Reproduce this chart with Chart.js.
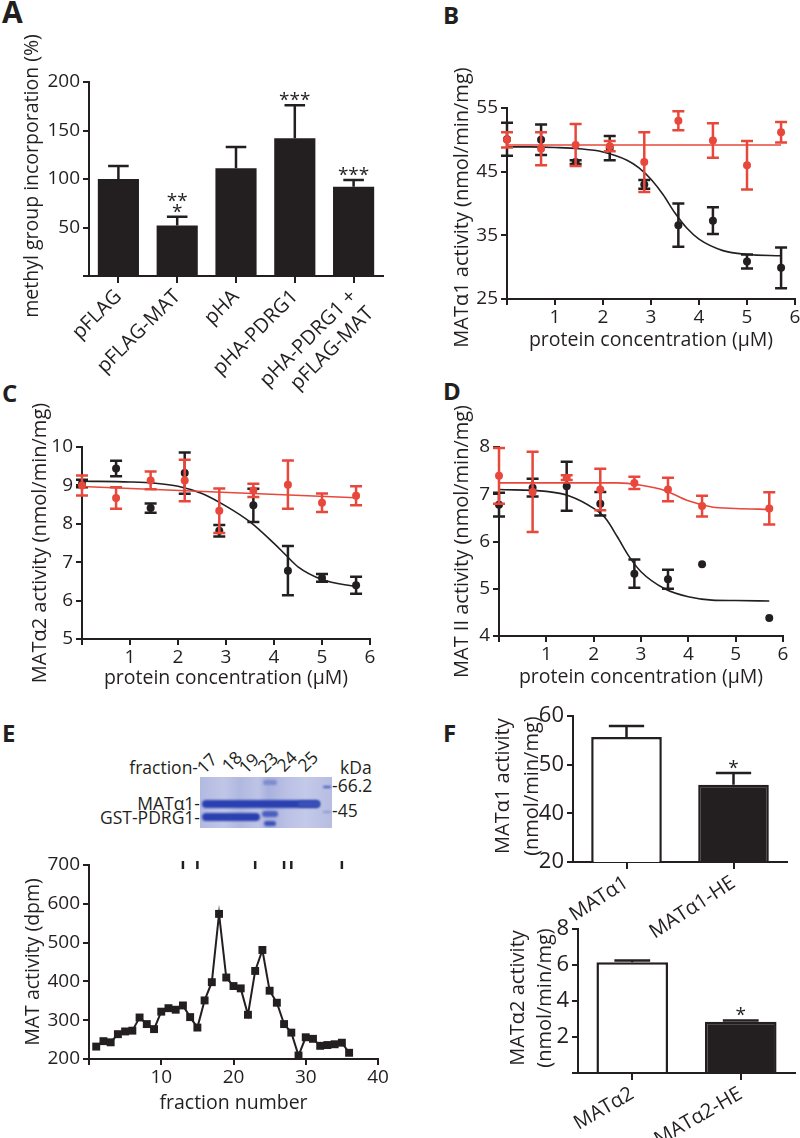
<!DOCTYPE html>
<html>
<head>
<meta charset="utf-8">
<script src="https://cdn.jsdelivr.net/npm/chart.js@4.4.1/dist/chart.umd.min.js"></script>
<style>
  html, body { margin: 0; padding: 0; background: #fff; overflow: hidden; width: 800px; height: 1138px; }
  body { position: relative; font-family: 'Open Sans', sans-serif; color: #231f20; }
  canvas { position: absolute; }
  .letter { position: absolute; font-weight: 700; line-height: 1; }
  .t { position: absolute; font-size: 17.5px; line-height: 1; white-space: nowrap; }
  .lane { position: absolute; font-size: 17.5px; line-height: 1; transform: rotate(-45deg); transform-origin: 0 100%; }
  .gel { position: absolute; left: 200px; top: 777px; width: 132px; height: 51px;
         background: linear-gradient(90deg, #b3bae0 0%, #c0c6e7 18%, #b1b8df 30%, #bec4e6 44%, #a9b1dd 52%, #bbc1e5 66%, #c3c9e8 80%, #b7bde2 100%); }
  .band { position: absolute; background: #2a3fb0; border-radius: 4px; filter: blur(0.8px); }
</style>
</head>
<body>

<div class="letter" style="left:2px;top:-3px;font-size:30px">A</div>
<div class="letter" style="left:443px;top:3px;font-size:24px">B</div>
<div class="letter" style="left:2px;top:381px;font-size:24px">C</div>
<div class="letter" style="left:443px;top:379px;font-size:24px">D</div>
<div class="letter" style="left:2px;top:721px;font-size:24px">E</div>
<div class="letter" style="left:443px;top:721px;font-size:24px">F</div>

<canvas id="chartA" width="400" height="400" style="left:0;top:0"></canvas>
<canvas id="chartB" width="410" height="360" style="left:400px;top:0"></canvas>
<canvas id="chartC" width="400" height="330" style="left:0;top:380px"></canvas>
<canvas id="chartD" width="410" height="330" style="left:400px;top:380px"></canvas>
<canvas id="chartE" width="400" height="298" style="left:0;top:840px"></canvas>
<canvas id="chartF1" width="410" height="240" style="left:400px;top:700px"></canvas>
<canvas id="chartF2" width="410" height="238" style="left:400px;top:900px"></canvas>

<!-- gel picture of panel E -->
<div class="gel">
  <div class="band" style="left:2px;top:23px;width:118px;height:8px"></div>
  <div class="band" style="left:98px;top:24px;width:22px;height:6px;background:#3a50b8"></div>
  <div class="band" style="left:2px;top:36px;width:58px;height:8px"></div>
  <div class="band" style="left:63px;top:3px;width:14px;height:5px;background:#7f8bcc"></div>
  <div class="band" style="left:62px;top:34px;width:16px;height:6px;background:#4a5ebf"></div>
  <div class="band" style="left:64px;top:44px;width:12px;height:5px;background:#3d52ba"></div>
  <div class="band" style="left:123px;top:9px;width:8px;height:2px;background:#3f56bd;border-radius:1px"></div>
  <div class="band" style="left:123px;top:34px;width:8px;height:2px;background:#8c97d0;border-radius:1px"></div>
</div>
<div class="t" style="right:602px;top:759px">fraction-</div>
<div class="lane" style="left:206px;top:759px">17</div>
<div class="lane" style="left:231px;top:757px">18</div>
<div class="lane" style="left:248px;top:759px">19</div>
<div class="lane" style="left:267px;top:758px">23</div>
<div class="lane" style="left:286px;top:757px">24</div>
<div class="lane" style="left:307px;top:757px">25</div>
<div class="t" style="left:340px;top:759px">kDa</div>
<div class="t" style="left:332px;top:777px">-66.2</div>
<div class="t" style="left:332px;top:802px">-45</div>
<div class="t" style="right:600px;top:795px">MATα1-</div>
<div class="t" style="right:600px;top:809px">GST-PDRG1-</div>

<script>
// ---- panel A: methyl group incorporation
const aLabels = ['pFLAG', 'pFLAG-MAT', 'pHA', 'pHA-PDRG1', ['pHA-PDRG1 +', 'pFLAG-MAT']];
const aValues = [100, 52, 111, 142, 92];
const aErrors = [13.5, 9, 22, 34, 7];
const aStars = [[], ['**', '*'], [], ['***'], ['***']];

// ---- panels B-D: protein concentration (uM)
const conc = [0, 0.71, 1.43, 2.14, 2.86, 3.57, 4.29, 5.0, 5.71];

const bBlack = [50.1, 50.0, 46.5, 48.7, 43.0, 36.6, 37.3, 30.9, 29.9];
const bBlackErr = [2.6, 2.4, 0.3, 1.9, 0.7, 3.4, 2.1, 1.1, 3.2];
const bRed = [50.0, 48.6, 49.2, 49.0, 46.5, 53.0, 49.9, 46.0, 51.2];
const bRedErr = [1.2, 2.6, 3.3, 0.8, 4.7, 1.5, 2.7, 3.8, 1.6];
const bFitX = [0, 0.5, 1, 1.5, 2, 2.5, 2.75, 3, 3.25, 3.5, 3.75, 4, 4.5, 5, 5.71];
const bBlackFit = [48.9, 48.9, 48.8, 48.6, 48.1, 46.8, 45.6, 43.8, 41.4, 38.5, 36.1, 34.4, 32.6, 32.0, 31.8];
const bRedFitX = [0, 5.71];
const bRedFit = [49.2, 49.2];

const cBlack = [9.05, 9.44, 8.41, 9.32, 7.82, 8.48, 6.78, 6.59, 6.40];
const cBlackErr = [0.1, 0.2, 0.12, 0.54, 0.15, 0.43, 0.64, 0.1, 0.22];
const cRed = [9.0, 8.67, 9.13, 9.13, 8.34, 8.87, 9.02, 8.55, 8.73];
const cRedErr = [0.26, 0.28, 0.23, 0.54, 0.58, 0.17, 0.63, 0.24, 0.25];
const cFitX = [0, 1, 1.5, 2, 2.5, 3, 3.5, 4, 4.25, 4.5, 5, 5.71];
const cBlackFit = [9.11, 9.09, 9.06, 8.98, 8.79, 8.46, 8.05, 7.49, 7.18, 6.88, 6.55, 6.36];
const cRedFitX = [0, 5.71];
const cRedFit = [8.97, 8.68];

const dConc = [0, 0.71, 1.43, 2.14, 2.86, 3.57, 4.29, 5.71];
const dBlack = [6.78, 7.14, 7.17, 6.8, 5.32, 5.2, 5.52, 4.38];
const dBlackErr = [0.25, 0.19, 0.52, 0.25, 0.3, 0.2, 0, 0];
const dRed = [7.39, 7.05, 7.35, 7.1, 7.24, 7.1, 6.75, 6.7];
const dRedErr = [0.59, 0.85, 0.05, 0.44, 0.13, 0.25, 0.22, 0.34];
const dFitX = [0, 1, 1.5, 2, 2.25, 2.5, 2.75, 3, 3.5, 4, 4.5, 5, 5.71];
const dBlackFit = [7.1, 7.06, 6.96, 6.70, 6.49, 6.1, 5.68, 5.36, 5.0, 4.83, 4.76, 4.75, 4.74];
const dRedFitX = [0, 2.5, 3, 3.5, 4, 4.5, 5, 5.71];
const dRedFit = [7.24, 7.24, 7.19, 7.08, 6.86, 6.73, 6.70, 6.68];

// ---- panel E: gel filtration fractions
const eFraction = [1, 2, 3, 4, 5, 6, 7, 8, 9, 10, 11, 12, 13, 14, 15, 16, 17, 18,
                   19, 20, 21, 22, 23, 24, 25, 26, 27, 28, 29, 30, 31, 32, 33, 34, 35, 36];
const eActivity = [232, 246, 243, 264, 271, 273, 307, 290, 277, 322, 331, 327, 338, 308, 281, 351, 398, 574,
                   410, 388, 382, 314, 427, 481, 376, 345, 290, 268, 209, 256, 252, 234, 236, 238, 242, 216];
const eMarkers = [13, 15, 23, 27, 28, 35];

// ---- panel F
const fTopLabels = ['MATα1', 'MATα1-HE'];
const fTopValues = [55.7, 45.9];
const fTopErr = [2.3, 2.4];
const fBotLabels = ['MATα2', 'MATα2-HE'];
const fBotValues = [6.15, 2.85];
const fBotErr = [0.1, 0.07];

const INK = '#231f20';
const RED = '#e8473b';
Chart.defaults.font.family = "'Open Sans', sans-serif";
Chart.defaults.font.size = 19;
Chart.defaults.color = INK;

// draws error bars under each dataset's own marks
const errorBars = {
  id: 'errorBars',
  beforeDatasetDraw(chart, args) {
    const ds = chart.data.datasets[args.index];
    if (!ds.errors) return;
    const y = chart.scales.y, ctx = chart.ctx;
    ctx.save();
    ctx.strokeStyle = ds.errColor || INK;
    ctx.lineWidth = ds.errWidth || 2.5;
    args.meta.data.forEach((el, i) => {
      const e = ds.errors[i];
      if (!e) return;
      const v = typeof ds.data[i] === 'object' ? ds.data[i].y : ds.data[i];
      const top = y.getPixelForValue(v + e);
      const bot = y.getPixelForValue(ds.upOnly ? v : v - e);
      const half = ds.capHalf || el.width * 0.25;
      ctx.beginPath();
      ctx.moveTo(el.x, bot); ctx.lineTo(el.x, top);
      ctx.moveTo(el.x - half, top); ctx.lineTo(el.x + half, top);
      if (!ds.upOnly) { ctx.moveTo(el.x - half, bot); ctx.lineTo(el.x + half, bot); }
      ctx.stroke();
    });
    ctx.restore();
  }
};

const starMarks = {
  id: 'starMarks',
  afterDatasetsDraw(chart) {
    const ctx = chart.ctx, y = chart.scales.y;
    chart.data.datasets.forEach((ds, di) => {
      if (!ds.stars) return;
      const meta = chart.getDatasetMeta(di);
      ctx.save();
      ctx.fillStyle = INK;
      ctx.font = "19px 'Open Sans'";
      ctx.textAlign = 'center';
      ctx.textBaseline = 'alphabetic';
      ds.stars.forEach((lines, i) => {
        if (!lines.length) return;
        const top = y.getPixelForValue(ds.data[i] + ds.errors[i]);
        lines.slice().reverse().forEach((s, k) => ctx.fillText(s, meta.data[i].x, top + 1 - k * 11));
      });
      ctx.restore();
    });
  }
};

// vertical axis title, not squeezed to the axis height
const yTitle = {
  id: 'yTitle',
  afterDraw(chart, args, opts) {
    const ca = chart.chartArea, ctx = chart.ctx;
    const lines = [].concat(opts.text);
    ctx.save();
    ctx.fillStyle = INK;
    ctx.font = (opts.size || 19.5) + "px 'Open Sans'";
    ctx.textAlign = 'center';
    ctx.textBaseline = 'middle';
    ctx.translate(opts.x, (ca.top + ca.bottom) / 2 + (opts.dy || 0));
    ctx.rotate(-Math.PI / 2);
    lines.forEach((l, i) => ctx.fillText(l, 0, i * (opts.gap || 0)));
    ctx.restore();
  }
};

function yAxis(o) {
  return {
    type: 'linear', min: o.min, max: o.max,
    afterFit: s => { s.width = o.width; },
    ticks: {
      stepSize: o.step, padding: 3, color: INK, font: { size: o.tickSize || 19 },
      callback: o.labels || (v => v === o.min ? '' : v)
    },
    grid: { display: true, drawOnChartArea: false, drawTicks: true, tickLength: 6, lineWidth: 2, color: INK },
    border: { display: true, color: INK, width: 2 }
  };
}

function xLinear(o) {
  return {
    type: 'linear', min: o.min, max: o.max,
    afterFit: s => { s.height = o.height; },
    ticks: { stepSize: o.step, padding: 1, color: INK, maxRotation: 0, font: { size: 19 },
             callback: v => v === o.min ? '' : v },
    grid: { display: true, drawOnChartArea: false, drawTicks: true, tickLength: 6, lineWidth: 2, color: INK },
    border: { display: true, color: INK, width: 2 },
    title: { display: true, text: o.title, color: INK, font: { size: 19.5 }, padding: { top: 0, bottom: o.titlePad } }
  };
}

function xCategory(o) {
  return {
    type: 'category', offset: true,
    afterFit: s => { s.height = o.height; },
    ticks: { minRotation: o.rot, maxRotation: o.rot, autoSkip: false, padding: 2, color: INK, font: { size: o.size || 20 } },
    grid: { display: true, offset: false, drawOnChartArea: false, drawTicks: true, tickLength: 7, lineWidth: 2, color: INK },
    border: { display: true, color: INK, width: 2 }
  };
}

function baseOptions(pad, scales, title) {
  return {
    responsive: false, animation: false,
    layout: { padding: { top: pad.top, right: pad.right, left: 0, bottom: 0 } },
    plugins: { legend: { display: false }, tooltip: { enabled: false }, yTitle: title },
    scales
  };
}

function pts(xs, ys) { return xs.map((x, i) => ({ x, y: ys[i] })); }

function doseDatasets(xs, black, blackErr, red, redErr, fitX, blackFit, redFitX, redFit) {
  const dot = { type: 'scatter', pointRadius: 4, pointBorderWidth: 0, capHalf: 6, errWidth: 2.5, clip: false };
  const fit = { type: 'scatter', showLine: true, pointRadius: 0, borderWidth: 1.6,
                cubicInterpolationMode: 'monotone', clip: false };
  return [
    Object.assign({}, dot, { data: pts(xs, red), errors: redErr, backgroundColor: RED, errColor: RED }),
    Object.assign({}, fit, { data: pts(redFitX, redFit), borderColor: RED }),
    Object.assign({}, dot, { data: pts(xs, black), errors: blackErr, backgroundColor: INK, errColor: INK }),
    Object.assign({}, fit, { data: pts(fitX, blackFit), borderColor: INK })
  ];
}

const allNumbers = v => v;

// A
new Chart(document.getElementById('chartA'), {
  type: 'bar',
  data: { labels: aLabels, datasets: [{
    data: aValues, errors: aErrors, stars: aStars, upOnly: true, errWidth: 2.5,
    backgroundColor: INK, borderWidth: 0, barPercentage: 0.7, categoryPercentage: 1
  }] },
  options: baseOptions({ top: 82, right: 17 }, {
    x: xCategory({ height: 124, rot: 45 }),
    y: yAxis({ min: 0, max: 200, step: 50, width: 89 })
  }, { text: 'methyl group incorporation (%)', x: 32, dy: -3 }),
  plugins: [errorBars, starMarks, yTitle]
});

// B
new Chart(document.getElementById('chartB'), {
  type: 'scatter',
  data: { datasets: doseDatasets(conc, bBlack, bBlackErr, bRed, bRedErr, bFitX, bBlackFit, bRedFitX, bRedFit) },
  options: baseOptions({ top: 108, right: 15 }, {
    x: xLinear({ min: 0, max: 6, step: 1, height: 61, title: 'protein concentration (µM)', titlePad: 8 }),
    y: yAxis({ min: 25, max: 55, step: 10, width: 107, labels: allNumbers })
  }, { text: 'MATα1 activity (nmol/min/mg)', x: 62, dy: 4, size: 20 }),
  plugins: [errorBars, yTitle]
});

// C
new Chart(document.getElementById('chartC'), {
  type: 'scatter',
  data: { datasets: doseDatasets(conc, cBlack, cBlackErr, cRed, cRedErr, cFitX, cBlackFit, cRedFitX, cRedFit) },
  options: baseOptions({ top: 67, right: 30 }, {
    x: xLinear({ min: 0, max: 6, step: 1, height: 71, title: 'protein concentration (µM)', titlePad: 20 }),
    y: yAxis({ min: 5, max: 10, step: 1, width: 82, labels: allNumbers })
  }, { text: 'MATα2 activity (nmol/min/mg)', x: 40, size: 20 }),
  plugins: [errorBars, yTitle]
});

// D
new Chart(document.getElementById('chartD'), {
  type: 'scatter',
  data: { datasets: doseDatasets(dConc, dBlack, dBlackErr, dRed, dRedErr, dFitX, dBlackFit, dRedFitX, dRedFit) },
  options: baseOptions({ top: 67, right: 27 }, {
    x: xLinear({ min: 0, max: 6, step: 1, height: 74, title: 'protein concentration (µM)', titlePad: 21 }),
    y: yAxis({ min: 4, max: 8, step: 1, width: 99, labels: allNumbers })
  }, { text: 'MAT II activity (nmol/min/mg)', x: 62, size: 20 }),
  plugins: [errorBars, yTitle]
});

// E
new Chart(document.getElementById('chartE'), {
  type: 'scatter',
  data: { datasets: [
    { data: eMarkers.map(x => ({ x, y: 700 })), pointStyle: 'line', rotation: 90, pointRadius: 4,
      borderColor: INK, pointBorderWidth: 2.5, clip: false },
    { data: pts(eFraction, eActivity), showLine: true, borderColor: INK, borderWidth: 2,
      pointStyle: 'rect', pointRadius: 5.6, backgroundColor: INK, pointBorderWidth: 0, clip: false }
  ] },
  options: baseOptions({ top: 25, right: 22 }, {
    x: xLinear({ min: 0, max: 40, step: 10, height: 79, title: 'fraction number', titlePad: 23 }),
    y: yAxis({ min: 200, max: 700, step: 100, width: 89, labels: allNumbers })
  }, { text: 'MAT activity (dpm)', x: 33 }),
  plugins: [yTitle]
});

// F top
new Chart(document.getElementById('chartF1'), {
  type: 'bar',
  data: { labels: fTopLabels, datasets: [{
    data: fTopValues, errors: fTopErr, stars: [[], ['*']], upOnly: true, errWidth: 2.5,
    backgroundColor: ['#ffffff', INK], borderColor: INK, borderWidth: 2.5,
    barPercentage: 0.66, categoryPercentage: 1
  }] },
  options: baseOptions({ top: 15, right: 23 }, {
    x: xCategory({ height: 78, rot: 33, size: 20 }),
    y: yAxis({ min: 30, max: 60, step: 10, width: 173, tickSize: 22, labels: v => v === 30 ? '20' : v })
  }, { text: ['MATα1 activity', '(nmol/min/mg)'], x: 103, gap: 29, size: 20, dy: -3 }),
  plugins: [errorBars, starMarks, yTitle]
});

// F bottom
new Chart(document.getElementById('chartF2'), {
  type: 'bar',
  data: { labels: fBotLabels, datasets: [{
    data: fBotValues, errors: fBotErr, stars: [[], ['*']], upOnly: true, errWidth: 2.5,
    backgroundColor: ['#ffffff', INK], borderColor: INK, borderWidth: 2.5,
    barPercentage: 0.66, categoryPercentage: 1
  }] },
  options: baseOptions({ top: 29, right: 15 }, {
    x: xCategory({ height: 65, rot: 30, size: 20 }),
    y: yAxis({ min: 0, max: 8, step: 2, width: 178, tickSize: 22 })
  }, { text: ['MATα2 activity', '(nmol/min/mg)'], x: 118, gap: 27, size: 20, dy: -3 }),
  plugins: [errorBars, starMarks, yTitle]
});
</script>
</body>
</html>
